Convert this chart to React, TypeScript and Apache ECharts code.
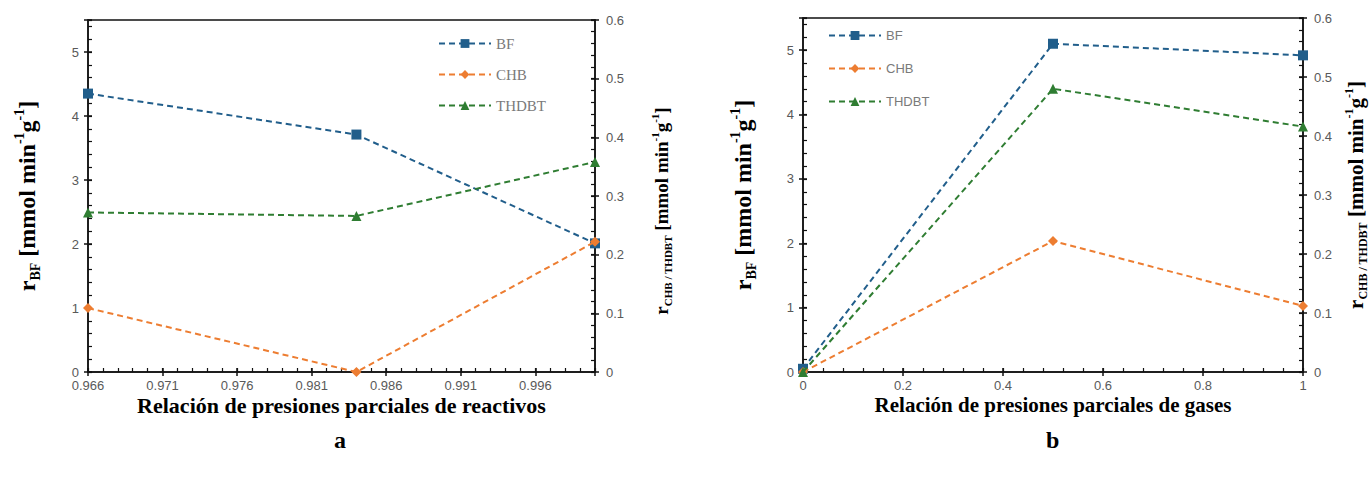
import React, { useEffect, useRef } from "react";
import * as echarts from "echarts";

// ---------- data ----------
const seriesNames = ["BF", "CHB", "THDBT"];

// chart a: relación de presiones parciales de reactivos
const xA = [0.966, 0.984, 1.0];
const bfA = [4.35, 3.71, 2.01];
const chbA = [0.109, 0.0, 0.222];
const thdbtA = [0.272, 0.266, 0.358];
const xTicksA = ["0.966", "0.971", "0.976", "0.981", "0.986", "0.991", "0.996"];

// chart b: relación de presiones parciales de gases
const xB = [0, 0.5, 1];
const bfB = [0.05, 5.1, 4.92];
const chbB = [0.0, 0.222, 0.112];
const thdbtB = [0.0, 0.48, 0.416];
const xTicksB = ["0", "0.2", "0.4", "0.6", "0.8", "1"];

const yLeftTicks = ["0", "1", "2", "3", "4", "5"];
const yRightTicks = ["0", "0.1", "0.2", "0.3", "0.4", "0.5", "0.6"];

const xTitleA = "Relación de presiones parciales de reactivos";
const xTitleB = "Relación de presiones parciales de gases";

// ---------- styling ----------
const COLORS = ["#215e8b", "#ed7d31", "#2f7d32"];
const SYMBOLS = ["rect", "diamond", "triangle"];
const SERIF = "'Liberation Serif', 'Times New Roman', serif";
const SANS = "'Liberation Sans', Arial, sans-serif";
const AXIS_COLOR = "#111";
const LABEL_COLOR = "#595959";

const X0A = 0.966;
const toA = (x: number) => Math.round((x - X0A) * 1000 * 1000) / 1000;

const tickFmt = (arr: string[], step: number, origin = 0) => (v: number) => {
  const k = (v - origin) / step;
  const r = Math.round(k);
  if (Math.abs(k - r) > 1e-6) return "";
  return arr[r] ?? "";
};

const makeRich = (size: number) => ({
  t: { fontFamily: SERIF, fontWeight: "bold", fontSize: size, color: "#000", lineHeight: Math.round(size * 1.25) },
  sub: { fontFamily: SERIF, fontWeight: "bold", fontSize: Math.round(size * 0.58), color: "#000", lineHeight: Math.round(size * 0.62), verticalAlign: "bottom" },
  sup: { fontFamily: SERIF, fontWeight: "bold", fontSize: Math.round(size * 0.58), color: "#000", lineHeight: Math.round(size * 0.62), verticalAlign: "top" },
});
const yNameLeft = "{t|r}{sub|BF}{t| [mmol min}{sup|-1}{t|g}{sup|-1}{t|]}";
const yNameRight = "{t|r}{sub|CHB / THDBT}{t| [mmol min}{sup|-1}{t|g}{sup|-1}{t|]}";

function xAxesFor(g: number, max: number, major: number, minor: number, fmt: (v: number) => string, name: string, nameSize: number) {
  const base = { type: "value", gridIndex: g, min: 0, max, position: "bottom", splitLine: { show: false } };
  return [
    {
      ...base,
      interval: major,
      axisLine: { show: true, onZero: false, lineStyle: { color: AXIS_COLOR, width: 1.5 } },
      axisTick: { show: false },
      axisLabel: { color: LABEL_COLOR, fontFamily: SANS, fontSize: 13, margin: 7, formatter: fmt },
      name,
      nameLocation: "middle",
      nameGap: 22,
      nameMoveOverlap: false,
      nameTextStyle: { fontFamily: SERIF, fontWeight: "bold", fontSize: nameSize, color: "#000" },
    },
    {
      ...base,
      interval: major,
      offset: -4,
      axisLine: { show: false, onZero: false },
      axisTick: { show: true, inside: false, length: 8, lineStyle: { color: AXIS_COLOR, width: 1.5 } },
      axisLabel: { show: false },
    },
    {
      ...base,
      interval: minor,
      axisLine: { show: false, onZero: false },
      axisTick: { show: true, inside: true, length: 4, lineStyle: { color: AXIS_COLOR, width: 1.2 } },
      axisLabel: { show: false },
    },
  ];
}

function yAxesFor(
  g: number,
  position: "left" | "right",
  max: number,
  major: number,
  minor: number,
  fmt: (v: number) => string,
  name: string,
  nameGap: number,
  nameSize: number,
  namePadding: number[]
) {
  const base = { type: "value", gridIndex: g, min: 0, max, position, splitLine: { show: false } };
  return [
    {
      ...base,
      interval: major,
      axisLine: { show: true, onZero: false, lineStyle: { color: AXIS_COLOR, width: 1.5 } },
      axisTick: { show: false },
      axisLabel: { color: LABEL_COLOR, fontFamily: SANS, fontSize: 13, margin: position === "left" ? 9 : 11, formatter: fmt },
      name,
      nameLocation: "middle",
      nameRotate: 90,
      nameGap,
      nameMoveOverlap: false,
      nameTextStyle: { rich: makeRich(nameSize), padding: namePadding },
    },
    {
      ...base,
      interval: major,
      offset: -4,
      axisLine: { show: false, onZero: false },
      axisTick: { show: true, inside: false, length: 8, lineStyle: { color: AXIS_COLOR, width: 1.5 } },
      axisLabel: { show: false },
    },
    {
      ...base,
      interval: minor,
      axisLine: { show: false, onZero: false },
      axisTick: { show: true, inside: true, length: 4, lineStyle: { color: AXIS_COLOR, width: 1.2 } },
      axisLabel: { show: false },
    },
  ];
}

function makeSeries(xIdx: number, yLeftIdx: number, yRightIdx: number, xs: number[], sets: number[][]) {
  return sets.map((vals, i) => ({
    type: "line",
    name: seriesNames[i],
    xAxisIndex: xIdx,
    yAxisIndex: i === 0 ? yLeftIdx : yRightIdx,
    data: xs.map((x, j) => [x, vals[j]]),
    symbol: SYMBOLS[i],
    symbolSize: 10,
    showAllSymbol: true,
    lineStyle: { color: COLORS[i], width: 2, type: [6, 4] },
    itemStyle: { color: COLORS[i] },
    z: 3 + i,
  }));
}

export default function App() {
  const ref = useRef<HTMLDivElement>(null);
  useEffect(() => {
    if (!ref.current) return;
    const chart = echarts.init(ref.current, undefined, { renderer: "svg" });

    const xAxis = [
      ...xAxesFor(0, toA(1.0), 5, 1, tickFmt(xTicksA, 5), xTitleA, 22),
      ...xAxesFor(1, 1, 0.2, 0.04, tickFmt(xTicksB, 0.2), xTitleB, 21),
    ];
    const yAxis = [
      ...yAxesFor(0, "left", 5.5, 1, 0.2, tickFmt(yLeftTicks, 1), yNameLeft, 46, 24, [0, 0, 0, 0]),
      ...yAxesFor(0, "right", 0.6, 0.1, 0.02, tickFmt(yRightTicks, 0.1), yNameRight, 54, 19, [0, 30, 0, 0]),
      ...yAxesFor(1, "left", 5.5, 1, 0.2, tickFmt(yLeftTicks, 1), yNameLeft, 45, 24, [0, 0, 0, 0]),
      ...yAxesFor(1, "right", 0.6, 0.1, 0.02, tickFmt(yRightTicks, 0.1), yNameRight, 40, 21, [0, 0, 0, 0]),
    ];

    const series = [
      ...makeSeries(0, 0, 3, xA.map(toA), [bfA, chbA, thdbtA]),
      ...makeSeries(3, 6, 9, xB, [bfB, chbB, thdbtB]),
    ];

    const legendCommon = {
      orient: "vertical",
      itemWidth: 52,
      itemHeight: 11,
      padding: 0,
      data: seriesNames,
      selectedMode: false,
    };

    chart.setOption({
      animation: false,
      backgroundColor: "#ffffff",
      grid: [
        { left: 88, top: 20, width: 507, height: 352, show: true, borderColor: AXIS_COLOR, borderWidth: 1.5, backgroundColor: "transparent" },
        { left: 803, top: 18, width: 500, height: 354, show: true, borderColor: AXIS_COLOR, borderWidth: 1.5, backgroundColor: "transparent" },
      ],
      xAxis,
      yAxis,
      legend: [
        { ...legendCommon, left: 438, top: 36, itemGap: 16, textStyle: { fontFamily: SERIF, fontSize: 15, color: "#7a7a7a" } },
        { ...legendCommon, left: 828, top: 29, itemGap: 20, textStyle: { fontFamily: SANS, fontSize: 13, color: "#7a7a7a" } },
      ],
      graphic: [
        { type: "text", left: 334, top: 428, style: { text: "a", font: `bold 24px ${SERIF}`, fill: "#000" } },
        { type: "text", left: 1046, top: 428, style: { text: "b", font: `bold 24px ${SERIF}`, fill: "#000" } },
      ],
      series,
    });
    return () => chart.dispose();
  }, []);
  return (
    <div
      ref={ref}
      style={{ position: "fixed", left: 0, top: 0, width: 1372, height: 481, background: "#fff" }}
    />
  );
}
